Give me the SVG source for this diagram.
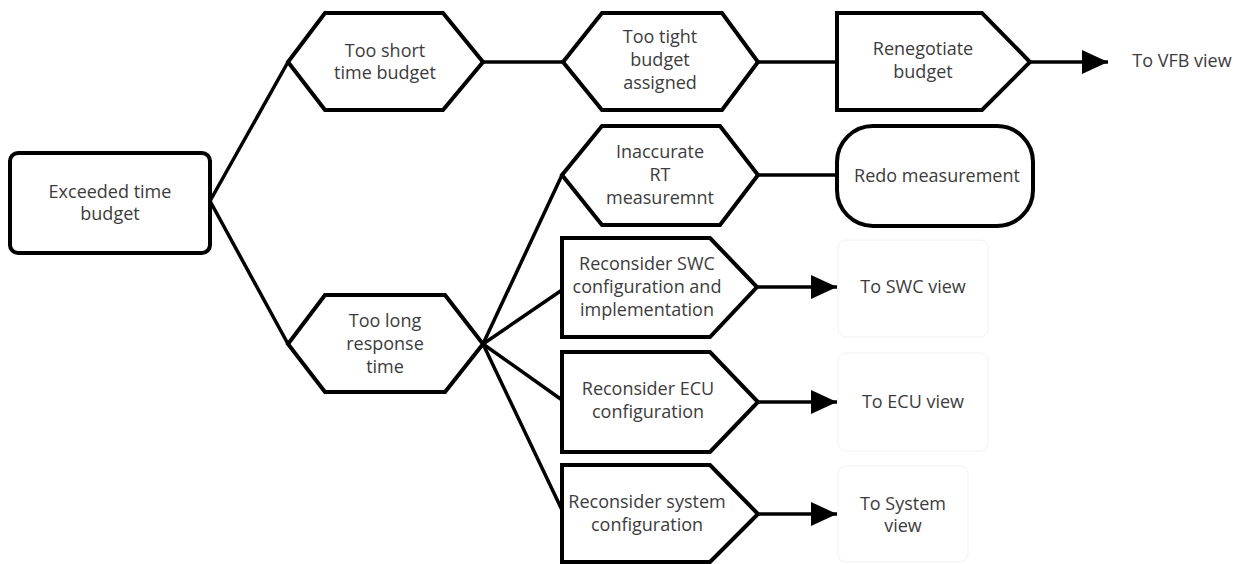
<svg xmlns="http://www.w3.org/2000/svg" width="1248" height="564" viewBox="0 0 1248 564">
<defs>
<marker id="arr" markerUnits="userSpaceOnUse" markerWidth="28" markerHeight="26" refX="26" refY="12" orient="auto">
<path d="M0,0 L26,12 L0,24 Z" fill="#000"/>
</marker>
</defs>
<style>
.n{fill:#fff;stroke:#000;stroke-width:4;stroke-linejoin:miter}
.c{fill:none;stroke:#000;stroke-width:3.5}
.f{fill:#fff;stroke:#f2f2f2;stroke-width:1}
text{font-family:"Open Sans","Liberation Sans",sans-serif;font-size:18px;fill:#3c3c3c;text-anchor:middle}
</style>
<rect width="1248" height="564" fill="#fff"/>
<g id="connectors">
<line class="c" x1="210" y1="201" x2="288" y2="62"/>
<line class="c" x1="210" y1="201" x2="288" y2="344"/>
<line class="c" x1="483" y1="62" x2="563" y2="62"/>
<line class="c" x1="758" y1="62" x2="837" y2="62"/>
<line class="c" x1="1030" y1="62" x2="1108" y2="62" marker-end="url(#arr)"/>
<line class="c" x1="483" y1="344" x2="562" y2="175"/>
<line class="c" x1="758" y1="175" x2="837" y2="175"/>
<line class="c" x1="483" y1="344" x2="562" y2="290"/>
<line class="c" x1="483" y1="344" x2="562" y2="400"/>
<line class="c" x1="483" y1="344" x2="562" y2="510"/>
<line class="c" x1="757" y1="287" x2="837" y2="287" marker-end="url(#arr)"/>
<line class="c" x1="757" y1="402" x2="837" y2="402" marker-end="url(#arr)"/>
<line class="c" x1="757" y1="514" x2="837" y2="514" marker-end="url(#arr)"/>
</g>
<g id="exceeded">
<rect class="n" x="10" y="153" width="200" height="100" rx="8"/>
<text x="110" y="198">Exceeded time</text>
<text x="110" y="220">budget</text>
</g>
<g id="too-short">
<polygon class="n" points="288,62 325,13 443,13 483,62 443,110 325,110"/>
<text x="385" y="57">Too short</text>
<text x="385" y="79">time budget</text>
</g>
<g id="too-tight">
<polygon class="n" points="563,62 602,13 722,13 758,62 722,110 602,110"/>
<text x="660" y="43">Too tight</text>
<text x="660" y="66">budget</text>
<text x="660" y="89">assigned</text>
</g>
<g id="renegotiate">
<polygon class="n" points="837,13 982,13 1030,62 982,110 837,110"/>
<text x="923" y="55">Renegotiate</text>
<text x="923" y="78">budget</text>
</g>
<g id="to-vfb">
<text x="1182" y="67" fill="#666">To VFB view</text>
</g>
<g id="too-long">
<polygon class="n" points="288,344 325,295 445,295 483,344 445,392 325,392"/>
<text x="385" y="327">Too long</text>
<text x="385" y="350">response</text>
<text x="385" y="373">time</text>
</g>
<g id="inaccurate">
<polygon class="n" points="562,175 602,126 720,126 758,175 720,225 602,225"/>
<text x="660" y="158">Inaccurate</text>
<text x="660" y="181">RT</text>
<text x="660" y="204">measuremnt</text>
</g>
<g id="redo">
<rect class="n" x="837" y="126" width="196" height="100" rx="36"/>
<text x="937" y="182">Redo measurement</text>
</g>
<g id="swc">
<polygon class="n" points="562,238 710,238 757,287 710,337 562,337"/>
<text x="647" y="270">Reconsider SWC</text>
<text x="647" y="293">configuration and</text>
<text x="647" y="316">implementation</text>
</g>
<g id="to-swc">
<rect class="f" x="838" y="240" width="150" height="97" rx="8"/>
<text x="913" y="293">To SWC view</text>
</g>
<g id="ecu">
<polygon class="n" points="562,352 710,352 758,402 710,452 562,452"/>
<text x="648" y="395">Reconsider ECU</text>
<text x="648" y="418">configuration</text>
</g>
<g id="to-ecu">
<rect class="f" x="838" y="353" width="150" height="98" rx="8"/>
<text x="913" y="408">To ECU view</text>
</g>
<g id="system">
<polygon class="n" points="562,465 710,465 758,514 710,562 562,562"/>
<text x="647" y="508">Reconsider system</text>
<text x="647" y="531">configuration</text>
</g>
<g id="to-system">
<rect class="f" x="838" y="466" width="130" height="96" rx="8"/>
<text x="903" y="510">To System</text>
<text x="903" y="532">view</text>
</g>
</svg>
